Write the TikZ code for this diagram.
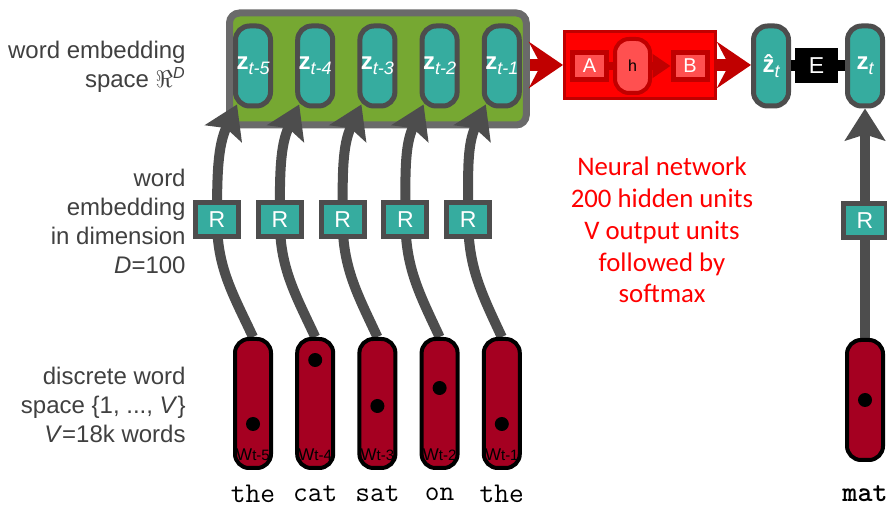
\documentclass[tikz,border=0pt]{standalone}
\usepackage{fontspec}
\setmainfont{Liberation Sans}
\newfontfamily\calibrifont{Carlito}
\newfontfamily\ttboldfont{lmmonolt10-bold.otf}
\usepackage{tikz}
\usetikzlibrary{arrows.meta, positioning, calc, fit, backgrounds}
\definecolor{zteal}{HTML}{36AC9F}
\definecolor{edgegray}{HTML}{4D4D4D}
\definecolor{boxgray}{HTML}{6A6A6A}
\definecolor{leafgreen}{HTML}{76A832}
\definecolor{darkred}{HTML}{C00000}
\definecolor{salmon}{HTML}{FF5050}
\definecolor{wine}{HTML}{A50021}
\definecolor{labgray}{HTML}{404040}
\newcommand{\zlab}[1]{\textbf{z}\raisebox{-0.4ex}{\itshape\fontsize{9}{9}\selectfont #1}}
\newcommand{\wlab}[1]{W{\fontsize{7.5}{8}\selectfont #1}}
\tikzset{
pill/.style={draw=edgegray, line width=2.5pt, fill=zteal, rounded corners=7pt, minimum width=17.5pt, minimum height=40pt, inner sep=0pt, text=white, font=\fontsize{12}{13}\selectfont}, % word vectors
rbox/.style={draw=edgegray, line width=2.5pt, fill=zteal, minimum width=21.5pt, minimum height=17pt, inner sep=0pt, text=white, font=\fontsize{11.5}{12}\selectfont},
wordbox/.style={draw=black, line width=2pt, fill=wine, rounded corners=7pt, minimum width=18pt, minimum height=64.5pt, inner sep=0pt}, % one-hot words
dot/.style={circle, fill=black, minimum size=7pt, inner sep=0pt},
wlabel/.style={inner sep=0pt, font=\fontsize{8.5}{9}\selectfont},
groupbox/.style={draw=boxgray, line width=3.5pt, fill=leafgreen, rounded corners=5pt, inner sep=0pt},
netbox/.style={draw=darkred, line width=1.5pt, fill=red, minimum width=75.5pt, minimum height=33.5pt, inner sep=0pt},
smallred/.style={draw=darkred, line width=2.5pt, fill=salmon, minimum width=17pt, minimum height=13.5pt, inner sep=0pt, text=white, font=\fontsize{10}{10}\selectfont},
hpill/.style={draw=darkred, line width=2pt, fill=salmon, rounded corners=7pt, minimum width=17.5pt, minimum height=27pt, inner sep=0pt, font=\fontsize{8}{8}\selectfont},
ebox/.style={fill=black, minimum width=21.5pt, minimum height=17.5pt, inner sep=0pt, text=white, font=\fontsize{11.5}{12}\selectfont},
flow/.style={draw=edgegray, line width=5pt, -{Stealth[length=16pt,width=20pt,inset=3pt]}},
chevron/.style={draw=darkred, line width=6pt, -{Stealth[length=17pt,width=23pt,inset=6pt]}},
innerline/.style={draw=darkred, line width=4pt},
blackbar/.style={draw=black, line width=5.5pt},
sidelabel/.style={anchor=east, align=right, inner sep=0pt, text=labgray, font=\fontsize{12}{14.5}\selectfont},
wordtxt/.style={inner sep=0pt, font=\ttfamily\fontsize{14.3}{15}\selectfont},
}

\begin{document}
\begin{tikzpicture}[x=0.5pt, y=-0.5pt, node distance=11.1pt]
  \useasboundingbox (0,0) rectangle (887,506);

  % context words in embedding space
  \node[pill] (z1) at (253,66) {\zlab{t-5}};
  \node[pill, right=of z1] (z2) {\zlab{t-4}};
  \node[pill, right=of z2] (z3) {\zlab{t-3}};
  \node[pill, right=of z3] (z4) {\zlab{t-2}};
  \node[pill, right=of z4] (z5) {\zlab{t-1}};
  \coordinate (gnw) at ($(z1.north west)+(-3.5,-10.5)$);
  \coordinate (gse) at ($(z5.south east)+(4.5,16.5)$);

  % network
  \node[netbox] (net) at (640,65) {};
  \node[smallred] (A) at (589.5,66) {A};
  \node[hpill] (h) at (632.5,66) {h};
  \node[smallred] (B) at (690,66) {B};
  \node[pill] (zhat) at (771,66) {\textbf{\^{z}}\raisebox{-0.4ex}{\itshape\fontsize{9}{9}\selectfont t}};
  \node[ebox] (E) at (816.5,66) {E};
  \node[pill] (zt) at (865,66) {\zlab{t}};

  % projections
  \node[rbox] (R1) at (217,220) {R};
  \node[rbox, right=7.4pt of R1] (R2) {R};
  \node[rbox, right=7.4pt of R2] (R3) {R};
  \node[rbox, right=7.4pt of R3] (R4) {R};
  \node[rbox, right=7.4pt of R4] (R5) {R};
  \node[rbox] (R6) at (865,221) {R};

  % discrete words
  \node[wordbox] (w1) at (253,403.5) {};
  \node[wordbox, right=of w1] (w2) {};
  \node[wordbox, right=of w2] (w3) {};
  \node[wordbox, right=of w3] (w4) {};
  \node[wordbox, right=of w4] (w5) {};
  \node[wordbox, minimum height=60pt] (m) at (865,400) {};

  \node[dot] (d1) at ([yshift=-10.25pt]w1.center) {};
  \node[dot] (d2) at ([yshift=21.75pt]w2.center) {};
  \node[dot] (d3) at ([yshift=-1.25pt]w3.center) {};
  \node[dot] (d4) at ([yshift=7.75pt]w4.center) {};
  \node[dot] (d5) at ([yshift=-10.25pt]w5.center) {};
  \node[dot] (dm) at (m.center) {};

  \node[wlabel] (l1) at ([yshift=7.5pt]w1.south) {\wlab{t-5}};
  \node[wlabel] (l2) at ([yshift=7.5pt]w2.south) {\wlab{t-4}};
  \node[wlabel] (l3) at ([yshift=7.5pt]w3.south) {\wlab{t-3}};
  \node[wlabel] (l4) at ([yshift=7.5pt]w4.south) {\wlab{t-2}};
  \node[wlabel] (l5) at ([yshift=7.5pt]w5.south) {\wlab{t-1}};

  \node[wordtxt] (t1) at ([yshift=-12pt]w1.south) {the};
  \node[wordtxt] (t2) at ([yshift=-12pt]w2.south) {cat};
  \node[wordtxt] (t3) at ([yshift=-12pt]w3.south) {sat};
  \node[wordtxt] (t4) at ([yshift=-12pt]w4.south) {on};
  \node[wordtxt] (t5) at ([yshift=-12pt]w5.south) {the};
  \node[wordtxt, font=\ttboldfont\fontsize{14.3}{15}\selectfont] (tm) at ([yshift=-16pt]m.south) {mat};

  % side labels
  \node[sidelabel] (lab1) at (186,67) {word embedding\\space \ensuremath{\Re}\textsuperscript{\itshape D}};
  \node[sidelabel] (lab2) at (186,221.5) {word\\embedding\\in dimension\\\textit{D}=100};
  \node[sidelabel] (lab3) at (186,405) {discrete word\\space \{1, ..., \textit{V}\}\\\textit{V}=18k words};
  \node[align=center, inner sep=0pt, text=red, font=\calibrifont\fontsize{13.4}{15.9}\selectfont] (nntxt) at (662,230)
    {Neural network\\200 hidden units\\V output units\\followed by\\softmax};

  \begin{pgfonlayer}{background}
    \node[groupbox, fit=(gnw)(gse)] (grp) {};
    \draw[flow] (w1.north) to[out=115,in=-90] (R1.center) to[out=90,in=-115] ([xshift=-8pt,yshift=2pt]z1.south);
    \draw[flow] (w2.north) to[out=115,in=-90] (R2.center) to[out=90,in=-115] ([xshift=-8pt,yshift=2pt]z2.south);
    \draw[flow] (w3.north) to[out=115,in=-90] (R3.center) to[out=90,in=-115] ([xshift=-8pt,yshift=2pt]z3.south);
    \draw[flow] (w4.north) to[out=115,in=-90] (R4.center) to[out=90,in=-115] ([xshift=-8pt,yshift=2pt]z4.south);
    \draw[flow] (w5.north) to[out=115,in=-90] (R5.center) to[out=90,in=-115] ([xshift=-8pt,yshift=2pt]z5.south);
    \draw[flow] (m) -- (R6) -- (zt);
  \end{pgfonlayer}

  \draw[chevron] (grp.east |- net.west) -- (net.west);
  \draw[chevron] (net.east) -- (net.east -| zhat.west);
  \draw[innerline] (A) -- (h);
  \draw[innerline, -{Triangle[length=9pt,width=11.5pt]}] (h) -- (B);
  \draw[blackbar] (zhat) -- (E) -- (zt);
\end{tikzpicture}
\end{document}
